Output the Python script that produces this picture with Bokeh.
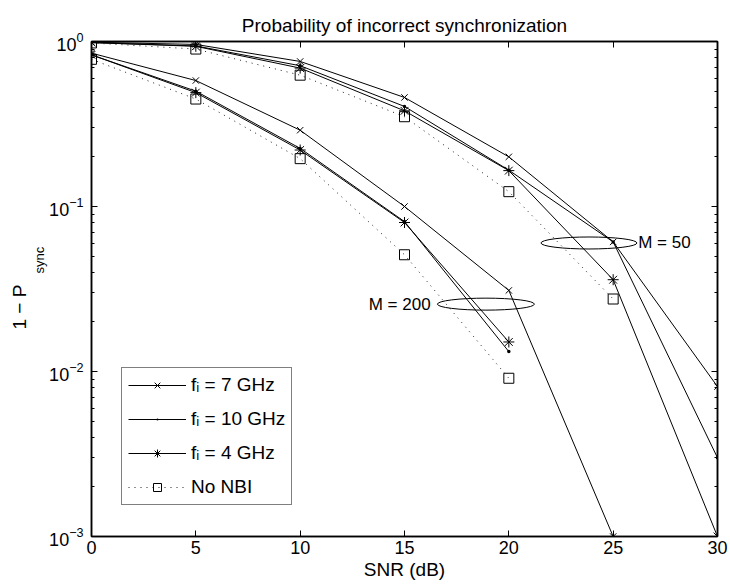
from bokeh.plotting import figure
from bokeh.models import (LinearAxis, LogAxis, Range1d, Legend, LegendItem, Label, Title,
                          SingleIntervalTicker, LogTicker, CustomJSTickFormatter)
from bokeh.embed import file_html
from bokeh.resources import INLINE
from bokeh.core.properties import value

# ---------------- data ----------------
snr = [0, 5, 10, 15, 20, 25, 30]
x_ticks = [0, 5, 10, 15, 20, 25, 30]

# M = 50 group
m50_f7 = [0.99, 0.96, 0.757, 0.458, 0.200, 0.061, 0.0081]
m50_f10 = [0.985, 0.94, 0.713, 0.404, 0.166, 0.061, 0.0030]
m50_f4 = [0.985, 0.935, 0.690, 0.380, 0.165, 0.036, 0.0010]
m50_nonbi = [0.98, 0.90, 0.625, 0.350, 0.123, 0.0275]

# M = 200 group
m200_f7 = [0.85, 0.58, 0.290, 0.100, 0.031, 0.0010]
m200_f10 = [0.83, 0.50, 0.225, 0.081, 0.0132]
m200_f4 = [0.83, 0.49, 0.220, 0.080, 0.0151]
m200_nonbi = [0.78, 0.448, 0.195, 0.051, 0.0091]

legend_labels = ["f\u1d62 = 7 GHz", "f\u1d62 = 10 GHz", "f\u1d62 = 4 GHz", "No NBI"]

FONT = "Liberation Sans"
TICK_FS = "18px"
LAB_FS = "19px"

p = figure(frame_width=626, frame_height=495,
           x_range=Range1d(0, 30), y_range=Range1d(1e-3, 1),
           y_axis_type="log", output_backend="svg", toolbar_location=None,
           min_border_left=91, min_border_right=13, min_border_top=41, min_border_bottom=50)

p.title.text = "Probability of incorrect synchronization"
p.title.align = "center"
p.title.text_font = FONT
p.title.text_font_size = LAB_FS
p.title.text_font_style = "normal"
p.title.text_color = "black"
p.title.standoff = 12

p.xgrid.visible = False
p.ygrid.visible = False
p.outline_line_color = "black"
p.outline_line_width = 1.5

# main axes
xa = p.xaxis[0]
xa.ticker = SingleIntervalTicker(interval=5, num_minor_ticks=0)
xa.axis_label = "SNR (dB)"
ya = p.yaxis[0]
ya.ticker = LogTicker(num_minor_ticks=10)
for ax in (xa, ya):
    ax.axis_line_color = "black"
    ax.axis_line_width = 1.5
    ax.major_tick_in = 6
    ax.major_tick_out = 0
    ax.minor_tick_in = 3
    ax.minor_tick_out = 0
    ax.major_tick_line_color = "black"
    ax.minor_tick_line_color = "black"
    ax.major_label_text_font = FONT
    ax.major_label_text_font_size = TICK_FS
    ax.major_label_text_color = "black"
    ax.axis_label_text_font = FONT
    ax.axis_label_text_font_size = LAB_FS
    ax.axis_label_text_font_style = "normal"
    ax.axis_label_text_color = "black"
xa.minor_tick_line_color = None
xa.major_label_standoff = 4
xa.axis_label_standoff = 2
ya.major_label_standoff = 8

# box axes (top / right), ticks only
blank = CustomJSTickFormatter(code="return ''")
top = LinearAxis(ticker=SingleIntervalTicker(interval=5, num_minor_ticks=0), formatter=blank)
right = LogAxis(ticker=LogTicker(num_minor_ticks=10), formatter=blank)
for ax in (top, right):
    ax.axis_line_color = "black"
    ax.axis_line_width = 1.5
    ax.major_tick_in = 6
    ax.major_tick_out = 0
    ax.minor_tick_in = 3
    ax.minor_tick_out = 0
    ax.major_label_standoff = 0
    ax.major_label_text_font_size = "0px"
top.minor_tick_line_color = None
p.add_layout(top, "above")
p.add_layout(right, "right")

# y axis label "1 - P_sync": two vertical titles in the left panel
p.add_layout(Title(text="sync", align="left", offset=263, standoff=0,
                   text_font=FONT, text_font_size="13px", text_font_style="normal",
                   text_color="black"), "left")
p.add_layout(Title(text="1 \u2212 P", align="left", offset=207, standoff=0,
                   text_font=FONT, text_font_size=LAB_FS, text_font_style="normal",
                   text_color="black"), "left")

# ---------------- series ----------------
def draw(vals, marker, size, dotted=False):
    xs = snr[:len(vals)]
    if dotted:
        ln = p.line(xs, vals, line_color="#222222", line_width=1, line_dash="1 5")
    else:
        ln = p.line(xs, vals, line_color="black", line_width=1)
    if marker == "dot":
        mk = p.scatter(xs, vals, marker="dot", size=size, fill_color="black", line_color="black")
    else:
        mk = p.scatter(xs, vals, marker=marker, size=size, fill_color=None,
                       line_color="black", line_width=1)
    return [ln, mk]

r7 = draw(m50_f7, "x", 9)
r10 = draw(m50_f10, "dot", 14)
r4 = draw(m50_f4, "asterisk", 11)
rn = draw(m50_nonbi, "square", 10, dotted=True)
draw(m200_f7, "x", 9)
draw(m200_f10, "dot", 14)
draw(m200_f4, "asterisk", 11)
draw(m200_nonbi, "square", 10, dotted=True)

# ---------------- annotations ----------------
p.ellipse(x=[23.84], y=[0.0601], width=96, height=12, width_units="screen",
          height_units="screen", fill_color=None, line_color="black", line_width=1)
p.ellipse(x=[18.9], y=[0.0256], width=97, height=12, width_units="screen",
          height_units="screen", fill_color=None, line_color="black", line_width=1)
p.add_layout(Label(x=26.2, y=0.0601, text="M = 50", text_align="left", text_baseline="middle",
                   text_font=FONT, text_font_size="17px", text_color="black"))
p.add_layout(Label(x=16.25, y=0.0256, text="M = 200", text_align="right", text_baseline="middle",
                   text_font=FONT, text_font_size="17px", text_color="black"))

# legend
items = [LegendItem(label=value(legend_labels[0]), renderers=r7),
         LegendItem(label=value(legend_labels[1]), renderers=r10),
         LegendItem(label=value(legend_labels[2]), renderers=r4),
         LegendItem(label=value(legend_labels[3]), renderers=rn)]
legend = Legend(items=items, location=(30, 31), margin=0, padding=6, spacing=12,
                glyph_width=58, glyph_height=20, label_height=20, label_standoff=5,
                label_text_font=FONT, label_text_font_size=LAB_FS, label_text_color="black",
                border_line_color="black", border_line_width=1,
                background_fill_color="white", background_fill_alpha=1.0)
p.add_layout(legend)

open("out.html", "w").write(file_html(p, INLINE))
